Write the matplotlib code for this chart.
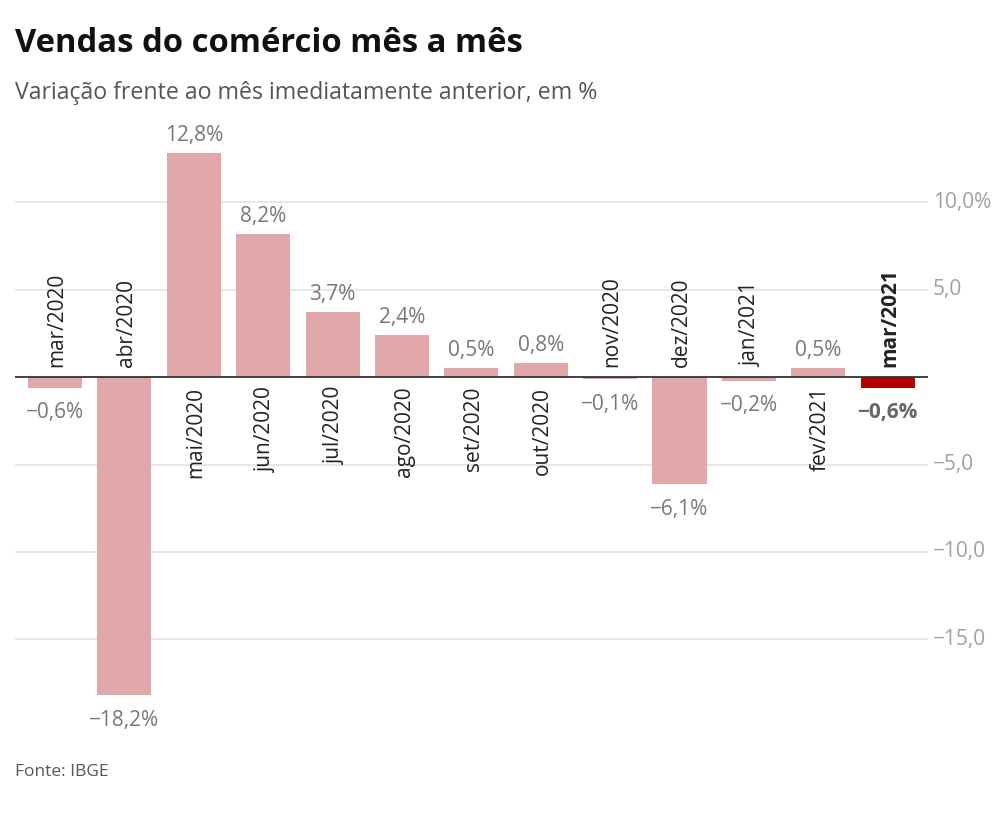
import matplotlib
matplotlib.use("Agg")
import matplotlib.pyplot as plt
import numpy as np

plt.rcParams['font.family'] = ['Open Sans', 'DejaVu Sans']

months = ["mar/2020", "abr/2020", "mai/2020", "jun/2020", "jul/2020", "ago/2020",
          "set/2020", "out/2020", "nov/2020", "dez/2020", "jan/2021", "fev/2021",
          "mar/2021"]
values = [-0.6, -18.2, 12.8, 8.2, 3.7, 2.4, 0.5, 0.8, -0.1, -6.1, -0.2, 0.5, -0.6]
yticks = [-15, -10, -5, 5, 10]
ytick_labels = ["\u221215,0", "\u221210,0", "\u22125,0", "5,0", "10,0%"]

pink = "#e0a8a8"
red = "#b30000"

fig = plt.figure(figsize=(10.08, 8.14), dpi=100)
ax = fig.add_axes([0.0149, 0.1069, 0.9057, 0.7309])

x = np.arange(len(values))
colors = [pink] * (len(values) - 1) + [red]
ax.bar(x, values, width=0.78, color=colors, zorder=2)

ax.set_xlim(-0.576, 12.58)
ax.set_ylim(-20, 14)
for t in yticks:
    ax.axhline(t, color="#e3e3e3", lw=1.2, zorder=0)
ax.axhline(0, color="#333333", lw=1.3, zorder=3)

for s in ax.spines.values():
    s.set_visible(False)
ax.set_xticks([])
ax.set_yticks([])

for t, lab in zip(yticks, ytick_labels):
    ax.text(12.65, t, lab, ha="left", va="center", fontsize=15, color="#a0a0a0")

def fmt(v):
    s = f"{abs(v):.1f}".replace(".", ",") + "%"
    return ("\u2212" + s) if v < 0 else s

last = len(values) - 1
for i, v in enumerate(values):
    bold = i == last
    vcol = "#666666" if bold else "#777777"
    w = "bold" if bold else "normal"
    if v >= 0:
        ax.text(i, v + 0.4, fmt(v), ha="center", va="bottom", fontsize=15,
                color=vcol, fontweight=w)
        ax.text(i + 0.03, -0.55, months[i], ha="center", va="top", rotation=90,
                fontsize=15, color="#222222", fontweight=w)
    else:
        ax.text(i, v - 0.85, fmt(v), ha="center", va="top", fontsize=15,
                color=vcol, fontweight=w)
        ax.text(i + 0.03, 0.55, months[i], ha="center", va="bottom", rotation=90,
                fontsize=15, color="#222222", fontweight=w)

fig.text(0.015, 0.947, "Vendas do comércio mês a mês", fontsize=23.6, fontweight="bold",
         color="#111111", ha="left", va="center")
fig.text(0.015, 0.886, "Variação frente ao mês imediatamente anterior, em %", fontsize=16.7,
         color="#555555", ha="left", va="center")
fig.text(0.015, 0.051, "Fonte: IBGE", fontsize=12.5, color="#555555", ha="left", va="center")

fig.savefig("out.png", dpi=100)
